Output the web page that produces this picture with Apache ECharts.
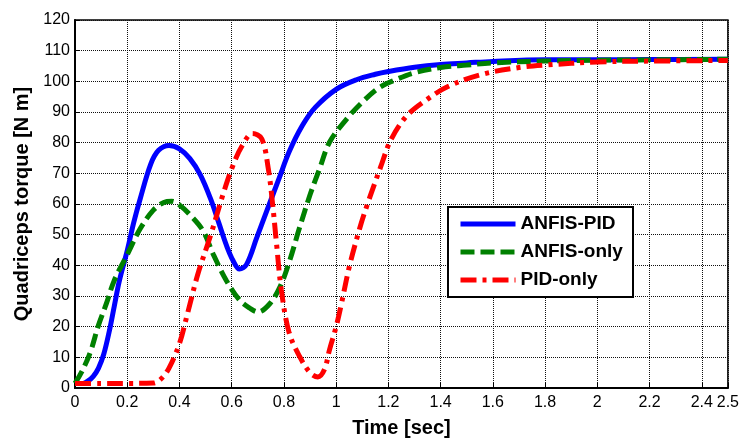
<!DOCTYPE html>
<html>
<head>
<meta charset="utf-8">
<script src="https://cdn.jsdelivr.net/npm/echarts@6/dist/echarts.min.js"></script>
<style>html,body{margin:0;padding:0;background:#fff;}#c{width:742px;height:443px;}</style>
</head>
<body>
<div id="c"></div>
<script>
// ---- data ----
var seriesNames = ['ANFIS-PID', 'ANFIS-only', 'PID-only'];
var xTickStep = 0.2;
var yTickStep = 10;

var tAnfisPid = [0, 0.03, 0.05, 0.07, 0.09, 0.11, 0.13, 0.15, 0.17, 0.2, 0.225, 0.25, 0.29, 0.32, 0.36, 0.4, 0.44, 0.48, 0.52, 0.55, 0.58, 0.605, 0.63, 0.657, 0.696, 0.734, 0.78, 0.82, 0.87, 0.92, 1.0, 1.08, 1.15, 1.2, 1.3, 1.4, 1.5, 1.6, 1.8, 2.0, 2.2, 2.5];
var vAnfisPid = [1.5, 1.5, 2.3, 3.8, 6.5, 11, 18, 26.5, 35, 44.8, 54, 61.8, 73, 77.5, 79.1, 78, 74.8, 69.5, 61.5, 54, 46.5, 41.6, 38.8, 40.3, 49, 57.7, 68, 77, 85.5, 91.5, 97.4, 100.6, 102.3, 103.2, 104.6, 105.5, 106, 106.5, 107, 107, 107.1, 107.2];

var tAnfisOnly = [0, 0.03, 0.06, 0.09, 0.12, 0.15, 0.2, 0.25, 0.3, 0.34, 0.37, 0.4, 0.44, 0.49, 0.53, 0.58, 0.63, 0.67, 0.7, 0.745, 0.785, 0.82, 0.86, 0.9, 0.937, 0.975, 1.04, 1.1, 1.166, 1.23, 1.3, 1.4, 1.5, 1.6, 1.8, 2.0, 2.2, 2.5];
var vAnfisOnly = [1.5, 6, 12, 20.5, 27.5, 35, 43.5, 52, 58, 60.5, 60.9, 59.7, 56.5, 51.3, 43.5, 35, 28.7, 26, 24.8, 27.4, 33, 41, 52.3, 63, 71.6, 80.2, 87.7, 93.2, 98, 100.6, 102.8, 104.5, 105.3, 106, 106.6, 106.9, 107, 107.2];

var tPidOnly = [0, 0.1, 0.2, 0.3, 0.33, 0.36, 0.4, 0.43, 0.47, 0.52, 0.57, 0.605, 0.64, 0.68, 0.715, 0.74, 0.757, 0.772, 0.79, 0.82, 0.86, 0.9, 0.93, 0.955, 0.975, 1.0, 1.02, 1.05, 1.09, 1.12, 1.17, 1.21, 1.27, 1.35, 1.43, 1.56, 1.7, 1.8, 2.0, 2.2, 2.5];
var vPidOnly = [1.5, 1.5, 1.5, 1.6, 3, 6.5, 14.5, 24, 37, 50, 64, 72.6, 79, 83, 81.3, 71.6, 59.7, 46.8, 32, 18, 10.3, 5, 3.6, 6, 12.6, 20, 27.4, 39.4, 52, 60, 72, 81, 88.7, 94.2, 98.4, 102.3, 104.5, 105.3, 106.3, 106.6, 106.8];

function pairs(t, v) { return t.map(function (x, i) { return [x, v[i]]; }); }

var FONT = 'Liberation Sans, Arial, sans-serif';
var chart = echarts.init(document.getElementById('c'), null, { renderer: 'canvas' });
chart.setOption({
  animation: false,
  backgroundColor: '#fff',
  grid: { left: 75, right: 13, top: 20, bottom: 51, show: true, borderColor: '#000', borderWidth: 1.5, backgroundColor: 'transparent' },
  xAxis: {
    type: 'value', min: 0, max: 2.5, interval: xTickStep,
    name: 'Time [sec]', nameLocation: 'middle', nameGap: 30,
    nameTextStyle: { fontFamily: FONT, fontWeight: 'bold', fontSize: 20, color: '#000' },
    axisLine: { show: true, lineStyle: { color: '#000', width: 2 } },
    axisTick: { show: true, inside: true, length: 5, lineStyle: { color: '#000' } },
    axisLabel: { fontFamily: FONT, fontSize: 16, color: '#000', margin: 7,
      formatter: function (v) { return String(Math.round(v * 10) / 10); } },
    splitLine: { show: true, lineStyle: { color: '#111', width: 1, type: [1, 1] } }
  },
  yAxis: {
    type: 'value', min: 0, max: 120, interval: yTickStep,
    name: 'Quadriceps torque [N m]', nameLocation: 'middle', nameGap: 42,
    nameTextStyle: { fontFamily: FONT, fontWeight: 'bold', fontSize: 20, color: '#000' },
    axisLine: { show: true, lineStyle: { color: '#000', width: 2 } },
    axisTick: { show: true, inside: true, length: 5, lineStyle: { color: '#000' } },
    axisLabel: { fontFamily: FONT, fontSize: 16, color: '#000', margin: 5 },
    splitLine: { show: true, lineStyle: { color: '#111', width: 1, type: [1, 1] } }
  },
  legend: {
    orient: 'vertical', left: 458, top: 214, padding: 0,
    itemWidth: 55, itemHeight: 20, itemGap: 8, z: 10,
    itemStyle: { opacity: 0 },
    lineStyle: { width: 5 },
    textStyle: { fontFamily: FONT, fontWeight: 'bold', fontSize: 19, color: '#000', lineHeight: 20 },
    data: seriesNames
  },
  graphic: [{
    type: 'rect', z: 9, left: 447, top: 206,
    shape: { width: 185, height: 90 },
    style: { fill: '#fff', stroke: '#000', lineWidth: 2 }
  }],
  series: [
    { name: seriesNames[0], type: 'line', data: pairs(tAnfisPid, vAnfisPid), showSymbol: false, symbol: 'none', smooth: 0.35,
      lineStyle: { color: '#0000ff', width: 5, type: 'solid' }, itemStyle: { color: '#0000ff' } },
    { name: seriesNames[1], type: 'line', data: pairs(tAnfisOnly, vAnfisOnly), showSymbol: false, symbol: 'none', smooth: 0.35,
      lineStyle: { color: '#008000', width: 5, type: [14, 6] }, itemStyle: { color: '#008000' } },
    { name: seriesNames[2], type: 'line', data: pairs(tPidOnly, vPidOnly), showSymbol: false, symbol: 'none', smooth: 0.35,
      lineStyle: { color: '#ff0000', width: 5, type: [16, 6, 4, 6] }, itemStyle: { color: '#ff0000' } }
  ]
});
</script>
</body>
</html>
